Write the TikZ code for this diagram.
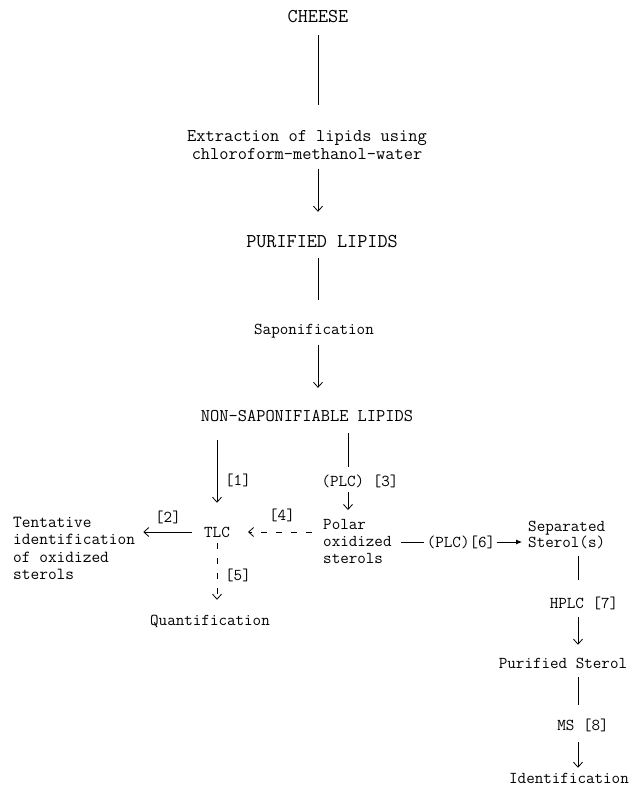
\documentclass[tikz,border=0pt]{standalone}
\usepackage{fontspec}
\usetikzlibrary{arrows.meta}
\begin{document}
\begin{tikzpicture}[x=1pt,y=-1pt,
  every node/.style={inner sep=0pt, font=\ttfamily\fontsize{16.6}{19}\selectfont, text height=10.1pt, text depth=0pt},
  big/.style={font=\ttfamily\fontsize{19.6}{22}\selectfont, text height=12pt},
  mid/.style={font=\ttfamily\fontsize{17.9}{20}\selectfont, text height=10.9pt},
  multi/.style={text height={}, text depth={}},
  conn/.style={line width=0.8pt},
  arr/.style={conn, -{Straight Barb[length=5pt,width=9pt]}},
  harr/.style={conn, -{Latex[length=6pt,width=5pt]}},
  dsh/.style={dash pattern=on 6pt off 9pt}]
\useasboundingbox (0,0) rectangle (632,793);

% nodes
\node[big] (cheese) at (318,16) {CHEESE};
\node[multi, align=center, anchor=north, font=\ttfamily\fontsize{17.9}{18}\selectfont] (extract) at (307,130)
  {Extraction of lipids using\\chloroform-methanol-water};
\node[big] (purified) at (322,241) {PURIFIED LIPIDS};
\node (sapon) at (314,329) {Saponification};
\node[mid] (nonsap) at (307,416) {NON-SAPONIFIABLE LIPIDS};
\node (l1) at (238,480) {[1]};
\node (plc3) at (360,481) {(PLC) [3]};
\node (tlc) at (217,532) {TLC};
\node (l2) at (168,517) {[2]};
\node (l4) at (282,515) {[4]};
\node[multi, align=left, anchor=north west, font=\ttfamily\fontsize{16.9}{17.3}\selectfont] (tent) at (13,517)
  {Tentative\\identification\\of oxidized\\sterols};
\node[multi, align=left, anchor=north west, font=\ttfamily\fontsize{16.6}{17}\selectfont] (polar) at (323,519)
  {Polar\\oxidized\\sterols};
\node (l5) at (238,575) {[5]};
\node (quant) at (210,620) {Quantification};
\node (plc6) at (461,542) {(PLC)[6]};
\node[multi, align=left, anchor=north west, font=\ttfamily\fontsize{16.6}{16}\selectfont] (sep) at (528,521)
  {Separated\\Sterol(s)};
\node (hplc) at (584,603) {HPLC [7]};
\node (psterol) at (563,663) {Purified Sterol};
\node (ms) at (583,725) {MS [8]};
\node (ident) at (569,778) {Identification};
\coordinate (rcol) at (578,0);

% connectors
\draw[conn, shorten <=13pt, shorten >=25pt] (cheese.south) -- (cheese.south |- extract.north);
\draw[arr, shorten <=9pt, shorten >=23pt] (cheese.south |- extract.south) -- (cheese.south |- purified.north);
\draw[conn, shorten <=11pt, shorten >=24pt] (cheese.south |- purified.south) -- (cheese.south |- sapon.north);
\draw[arr, shorten <=11pt, shorten >=22.5pt] (cheese.south |- sapon.south) -- (cheese.south |- nonsap.north);

\draw[arr, shorten <=18.5pt, shorten >=24pt] (tlc.north |- nonsap.south) -- (tlc.north);
\draw[conn, shorten <=11.5pt, shorten >=9pt] ([xshift=-12pt]plc3.north |- nonsap.south) -- ([xshift=-12pt]plc3.north);
\draw[arr, shorten <=6pt, shorten >=9pt] ([xshift=-12pt]plc3.south) -- ([xshift=-12pt]plc3.south |- polar.north);

\draw[arr, shorten <=12pt, shorten >=8pt] (tlc.west) -- (tlc.west -| tent.east);
\draw[arr, dsh, shorten <=11pt, shorten >=18pt] (polar.west |- tlc.east) -- (tlc.east);
\draw[arr, dsh, shorten <=6pt, shorten >=15pt] (tlc.south) -- (tlc.south |- quant.north);

\draw[conn, shorten <=9pt, shorten >=3pt] (polar.east |- plc6.west) -- (plc6.west);
\draw[harr, shorten <=1.2pt, shorten >=6pt] (plc6.east) -- (sep.west |- plc6.east);

\draw[conn, shorten <=6.5pt, shorten >=18pt] (sep.south -| rcol) -- (hplc.north -| rcol);
\draw[arr, shorten <=9pt, shorten >=13pt] (hplc.south -| rcol) -- (psterol.north -| rcol);
\draw[conn, shorten <=9pt, shorten >=15pt] (psterol.south -| rcol) -- (ms.north -| rcol);
\draw[arr, shorten <=12pt, shorten >=5pt] (ms.south -| rcol) -- (ident.north -| rcol);
\end{tikzpicture}
\end{document}
